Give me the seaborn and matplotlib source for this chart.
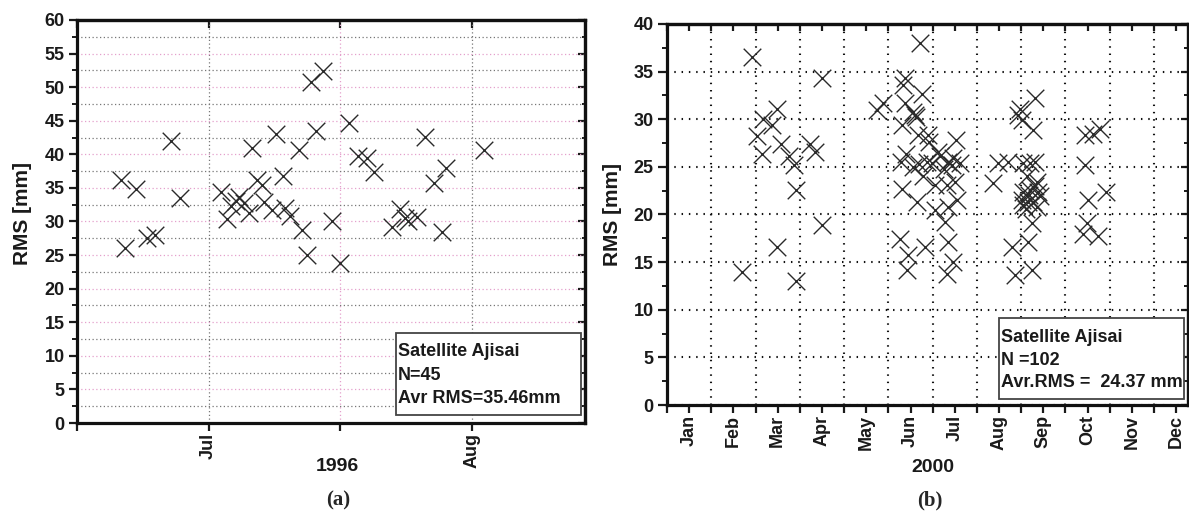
import matplotlib
matplotlib.use("Agg")
import matplotlib.pyplot as plt
import seaborn as sns
from matplotlib.ticker import FixedLocator, FixedFormatter, MultipleLocator, NullFormatter
from matplotlib.patches import Rectangle

# ---- (a) Ajisai normal points, summer 1996: day of year vs RMS [mm] ----
doy_1996 = [172.7, 173.1, 174.5, 175.7, 176.7, 178.6, 179.6, 184.4, 185.1, 185.6,
            186.2, 186.6, 187.1, 187.7, 188.1, 188.7, 189.3, 189.5, 190.5, 190.9,
            191.7, 192.0, 192.6, 193.6, 194.0, 194.6, 195.0, 195.6, 196.5, 197.5,
            198.5, 199.5, 200.6, 201.6, 202.5, 204.6, 205.5, 206.1, 206.5, 207.5,
            208.5, 209.5, 210.5, 210.9, 215.4]
rms_1996 = [36.2, 26.1, 34.8, 27.6, 28.0, 42.0, 33.5, 34.4, 30.3, 32.3,
            33.0, 33.7, 32.7, 31.2, 41.0, 36.2, 35.4, 32.9, 31.7, 43.0,
            36.8, 32.0, 30.8, 40.6, 28.7, 25.0, 50.8, 43.4, 52.4, 30.1,
            23.8, 44.6, 39.7, 39.5, 37.4, 29.2, 31.8, 30.5, 30.0, 30.7,
            42.6, 35.7, 28.5, 37.9, 40.6]

# ---- (b) Ajisai normal points, 2000: day of year vs RMS [mm] ----
doy_2000 = [50.6, 57.4, 60.8, 64.2, 65.3, 70.9, 74.3, 74.3, 77.0, 82.9,
            86.1, 87.4, 87.4, 96.9, 100.3, 105.2, 105.2, 142.5, 146.6,
            171.4, 161.3, 160.1, 172.6, 161.3, 166.9, 168.1, 159.0, 170.0, 177.0,
            195.7, 162.0, 158.5, 166.9, 176.0, 179.4, 185.0, 190.6, 192.9, 198.5,
            173.7, 181.6, 189.5, 195.2, 159.0, 169.2, 196.3, 181.6, 190.6, 188.4,
            157.9, 174.8, 190.6, 163.5, 162.4, 194.0, 189.5,
            183.5, 187.5, 193.5, 168.8, 177.5, 171.0,
            221.1, 224.5, 231.3, 233.6, 235.8,
            239.2, 238.1, 240.4, 249.4, 248.2, 241.5, 246.0, 249.4, 243.7, 250.5,
            241.5, 246.0, 251.6, 252.8, 240.4, 241.5, 244.8, 248.2, 250.5, 247.1,
            244.8, 247.1, 243.0, 245.6, 249.5,
            283.3, 288.9, 293.4, 283.3, 297.5, 285.5, 284.4, 282.1, 292.3]
rms_2000 = [14.0, 36.5, 28.2, 26.4, 30.0, 29.4, 31.1, 16.6, 27.4, 26.1,
            25.2, 22.6, 13.0, 27.4, 26.6, 34.3, 18.9, 31.0, 31.7,
            38.0, 34.3, 33.6, 32.6, 31.7, 30.8, 30.4, 29.4, 28.3, 28.3,
            27.8, 26.3, 25.5, 25.0, 25.5, 25.4, 26.1, 25.5, 25.2, 25.4,
            24.0, 23.1, 23.1, 23.4, 22.7, 21.3, 21.5, 20.5, 20.8, 19.2,
            17.4, 16.6, 17.1, 15.7, 14.2, 15.0, 13.8,
            26.6, 24.8, 25.9, 30.2, 27.6, 25.3,
            23.3, 25.4, 25.5, 16.6, 13.6,
            31.1, 30.4, 29.9, 32.2, 28.9, 25.4, 25.4, 25.5, 24.0, 23.4,
            22.4, 22.6, 22.4, 21.9, 21.5, 21.0, 21.3, 21.3, 20.8, 19.1,
            17.1, 14.2, 20.6, 22.0, 23.0,
            28.3, 28.5, 29.0, 25.2, 22.4, 21.5, 19.1, 18.0, 17.7]

months_1996 = ["Jul", "Aug"]
months_2000 = ["Jan", "Feb", "Mar", "Apr", "May", "Jun",
               "Jul", "Aug", "Sep", "Oct", "Nov", "Dec"]
info_1996 = ["Satellite Ajisai", "N=45", "Avr RMS=35.46mm"]
info_2000 = ["Satellite Ajisai", "N =102", "Avr.RMS =  24.37 mm"]

sns.set_theme(style="ticks")
plt.rcParams["font.family"] = ["Liberation Sans", "DejaVu Sans"]
plt.rcParams["font.weight"] = "bold"
plt.rcParams["axes.labelweight"] = "bold"
plt.rcParams["xtick.labelsize"] = 13
plt.rcParams["ytick.labelsize"] = 13
plt.rcParams["xtick.color"] = "#1a1a1a"
plt.rcParams["ytick.color"] = "#1a1a1a"

W, H = 1189, 511
fig = plt.figure(figsize=(W / 100, H / 100), dpi=100)
fig.patch.set_facecolor("white")

ax_a = fig.add_axes([77 / W, 1 - 423 / H, 508 / W, 403 / H])
ax_b = fig.add_axes([667 / W, 1 - 405 / H, 521 / W, 381 / H])

mark_color = "#2a2a2a"
pink = "#e4a0cc"
grey = "#777777"

for ax, x, y in ((ax_a, doy_1996, rms_1996), (ax_b, doy_2000, rms_2000)):
    sns.scatterplot(x=x, y=y, marker="x", s=160, color=mark_color,
                    linewidth=1.0, ax=ax, zorder=3, legend=False)
    ax.set_axisbelow(True)
    ax.set_facecolor("white")
    for sp in ax.spines.values():
        sp.set_visible(True)
        sp.set_linewidth(2.3)
        sp.set_color("#111111")
    ax.set_ylabel("RMS [mm]", fontsize=15, fontweight="bold", color="#1a1a1a")

# ---------------- panel (a) ----------------
ax_a.set_xlim(167.5, 227.3)
ax_a.set_ylim(0, 60)
ax_a.xaxis.set_major_locator(FixedLocator([183, 214]))
ax_a.xaxis.set_major_formatter(FixedFormatter(months_1996))
ax_a.xaxis.set_minor_locator(FixedLocator([167.5, 198.5]))
ax_a.yaxis.set_major_locator(MultipleLocator(5))
ax_a.yaxis.set_minor_locator(MultipleLocator(2.5))
ax_a.tick_params(axis="x", which="both", direction="out", length=6, width=1.6)
ax_a.tick_params(axis="x", which="major", labelrotation=90, pad=1)
ax_a.tick_params(axis="y", which="major", direction="out", length=6, width=1.6, pad=3)
ax_a.tick_params(axis="y", which="minor", direction="out", length=3.6, width=1.4)
fine_dots = (0, (1, 2))
ax_a.grid(axis="y", which="major", color=pink, linestyle=fine_dots, linewidth=0.9)
ax_a.grid(axis="y", which="minor", color=grey, linestyle=fine_dots, linewidth=0.9)
ax_a.grid(axis="x", which="major", color=grey, linestyle=fine_dots, linewidth=0.9)
ax_a.grid(axis="x", which="minor", color=pink, linestyle=fine_dots, linewidth=0.9)

top_a = ax_a.secondary_xaxis("top")
top_a.xaxis.set_major_locator(FixedLocator([167.5, 183, 198.5, 214]))
top_a.xaxis.set_major_formatter(NullFormatter())
top_a.tick_params(direction="in", length=6, width=1.6)
top_a.spines["top"].set_linewidth(2.3)
right_a = ax_a.secondary_yaxis("right")
right_a.yaxis.set_major_locator(MultipleLocator(5))
right_a.yaxis.set_minor_locator(MultipleLocator(2.5))
right_a.yaxis.set_major_formatter(NullFormatter())
right_a.tick_params(which="major", direction="in", length=5, width=1.6)
right_a.tick_params(which="minor", direction="in", length=2.5, width=1.4)
right_a.spines["right"].set_linewidth(2.3)

ax_a.set_xlabel("1996", fontsize=14, fontweight="bold", color="#1a1a1a")
ax_a.xaxis.set_label_coords(0.512, -0.109)
ax_a.xaxis.label.set_va("center")
ax_a.yaxis.set_label_coords(-0.108, 0.52)
ax_a.yaxis.label.set_va("center")

# ---------------- panel (b) ----------------
ax_b.set_xlim(0, 353)
ax_b.set_ylim(0, 40)
ax_b.xaxis.set_major_locator(FixedLocator(list(range(0, 331, 30))))
ax_b.xaxis.set_major_formatter(NullFormatter())
ax_b.xaxis.set_minor_locator(FixedLocator([15 + 30 * k for k in range(12)]))
ax_b.xaxis.set_minor_formatter(FixedFormatter(months_2000))
ax_b.tick_params(axis="x", which="both", direction="out", length=6, width=1.6)
ax_b.tick_params(axis="x", which="minor", labelrotation=90, pad=1, labelsize=13)
ax_b.yaxis.set_major_locator(MultipleLocator(5))
ax_b.yaxis.set_minor_locator(MultipleLocator(2.5))
ax_b.tick_params(axis="y", which="major", direction="out", length=6.5, width=1.6, pad=3)
ax_b.tick_params(axis="y", which="minor", direction="out", length=3.6, width=1.4)
ax_b.grid(which="major", color="#111111", linestyle=(0, (0.7, 2.8)), linewidth=1.5)

top_b = ax_b.secondary_xaxis("top")
top_b.xaxis.set_major_locator(FixedLocator([15 * k for k in range(24)]))
top_b.xaxis.set_major_formatter(NullFormatter())
top_b.tick_params(direction="in", length=5, width=1.6)
top_b.spines["top"].set_linewidth(2.3)
right_b = ax_b.secondary_yaxis("right")
right_b.yaxis.set_major_locator(MultipleLocator(5))
right_b.yaxis.set_minor_locator(MultipleLocator(2.5))
right_b.yaxis.set_major_formatter(NullFormatter())
right_b.tick_params(which="major", direction="in", length=5, width=1.6)
right_b.tick_params(which="minor", direction="in", length=3, width=1.4)
right_b.spines["right"].set_linewidth(2.3)

ax_b.set_xlabel("2000", fontsize=14, fontweight="bold", color="#1a1a1a")
ax_b.xaxis.set_label_coords(0.511, -0.165)
ax_b.xaxis.label.set_va("center")
ax_b.yaxis.set_label_coords(-0.104, 0.50)
ax_b.yaxis.label.set_va("center")

# ---------------- info boxes ----------------
def info_box(ax, x0, y0, x1, y1, tx, tys, lines):
    ax.add_patch(Rectangle((x0, y0), x1 - x0, y1 - y0, transform=ax.transAxes,
                           facecolor="white", edgecolor="#444444", linewidth=1.3,
                           zorder=4, clip_on=False))
    for ty, line in zip(tys, lines):
        ax.text(tx, ty, line, transform=ax.transAxes, ha="left", va="center",
                fontsize=13, fontweight="bold", color="#1a1a1a", zorder=5)

info_box(ax_a, 0.627, 0.020, 0.9915, 0.2226, 0.632, [0.177, 0.119, 0.062], info_1996)
info_box(ax_b, 0.638, 0.015, 0.992, 0.2276, 0.642, [0.178, 0.118, 0.058], info_2000)

# panel captions
for xc, cap in ((338 / W, "(a)"), (930 / W, "(b)")):
    fig.text(xc, 1 - 500 / H, cap, ha="center", va="center", fontsize=15,
             fontweight="bold", family=["Liberation Serif", "DejaVu Serif"])

fig.savefig("out.png", dpi=100, facecolor="white")
